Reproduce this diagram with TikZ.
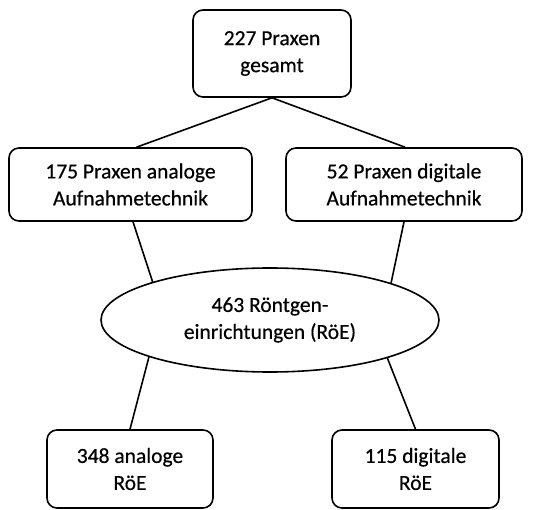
\documentclass[tikz,border=0pt]{standalone}
\usepackage{fontspec}
\setmainfont{Carlito}[FakeBold=0.5]
\usetikzlibrary{shapes.geometric}
\begin{document}
\begin{tikzpicture}[x=1pt,y=-1pt,
  box/.style={draw, rounded corners=10pt, line width=1.6pt, align=center,
    font=\fontsize{21.5}{27}\selectfont, inner sep=0pt},
  oval/.style={draw, ellipse, line width=1.6pt, align=center,
    font=\fontsize{21.5}{27}\selectfont, inner sep=0pt},
  conn/.style={line width=1.6pt}]
\useasboundingbox (0,0) rectangle (559,510);
\node[box, minimum width=158pt, minimum height=87pt] (top) at (272,53.5) {227 Praxen\\gesamt};
\node[box, minimum width=243pt, minimum height=73pt] (L) at (130.5,184.5) {175 Praxen analoge\\Aufnahmetechnik};
\node[box, minimum width=236pt, minimum height=73pt] (R) at (404,184.5) {52 Praxen digitale\\Aufnahmetechnik};
\node[oval, minimum width=338pt, minimum height=104pt] (E) at (270,320) {463 Röntgen-\\einrichtungen (RöE)};
\node[box, minimum width=166pt, minimum height=78pt] (BL) at (130,469) {348 analoge\\RöE};
\node[box, minimum width=167pt, minimum height=78pt] (BR) at (415.5,469) {115 digitale\\RöE};
\draw[conn] (top.south) -- ([xshift=6pt]L.north);
\draw[conn] (top.south) -- ([xshift=1pt]R.north);
\draw[conn] ([xshift=2.5pt]L.south) -- (E.162.6);
\draw[conn] (R.south) -- (E.17.4);
\draw[conn] (E.197.8) -- (BL.north);
\draw[conn] (E.342.4) -- (BR.north);
\end{tikzpicture}
\end{document}
